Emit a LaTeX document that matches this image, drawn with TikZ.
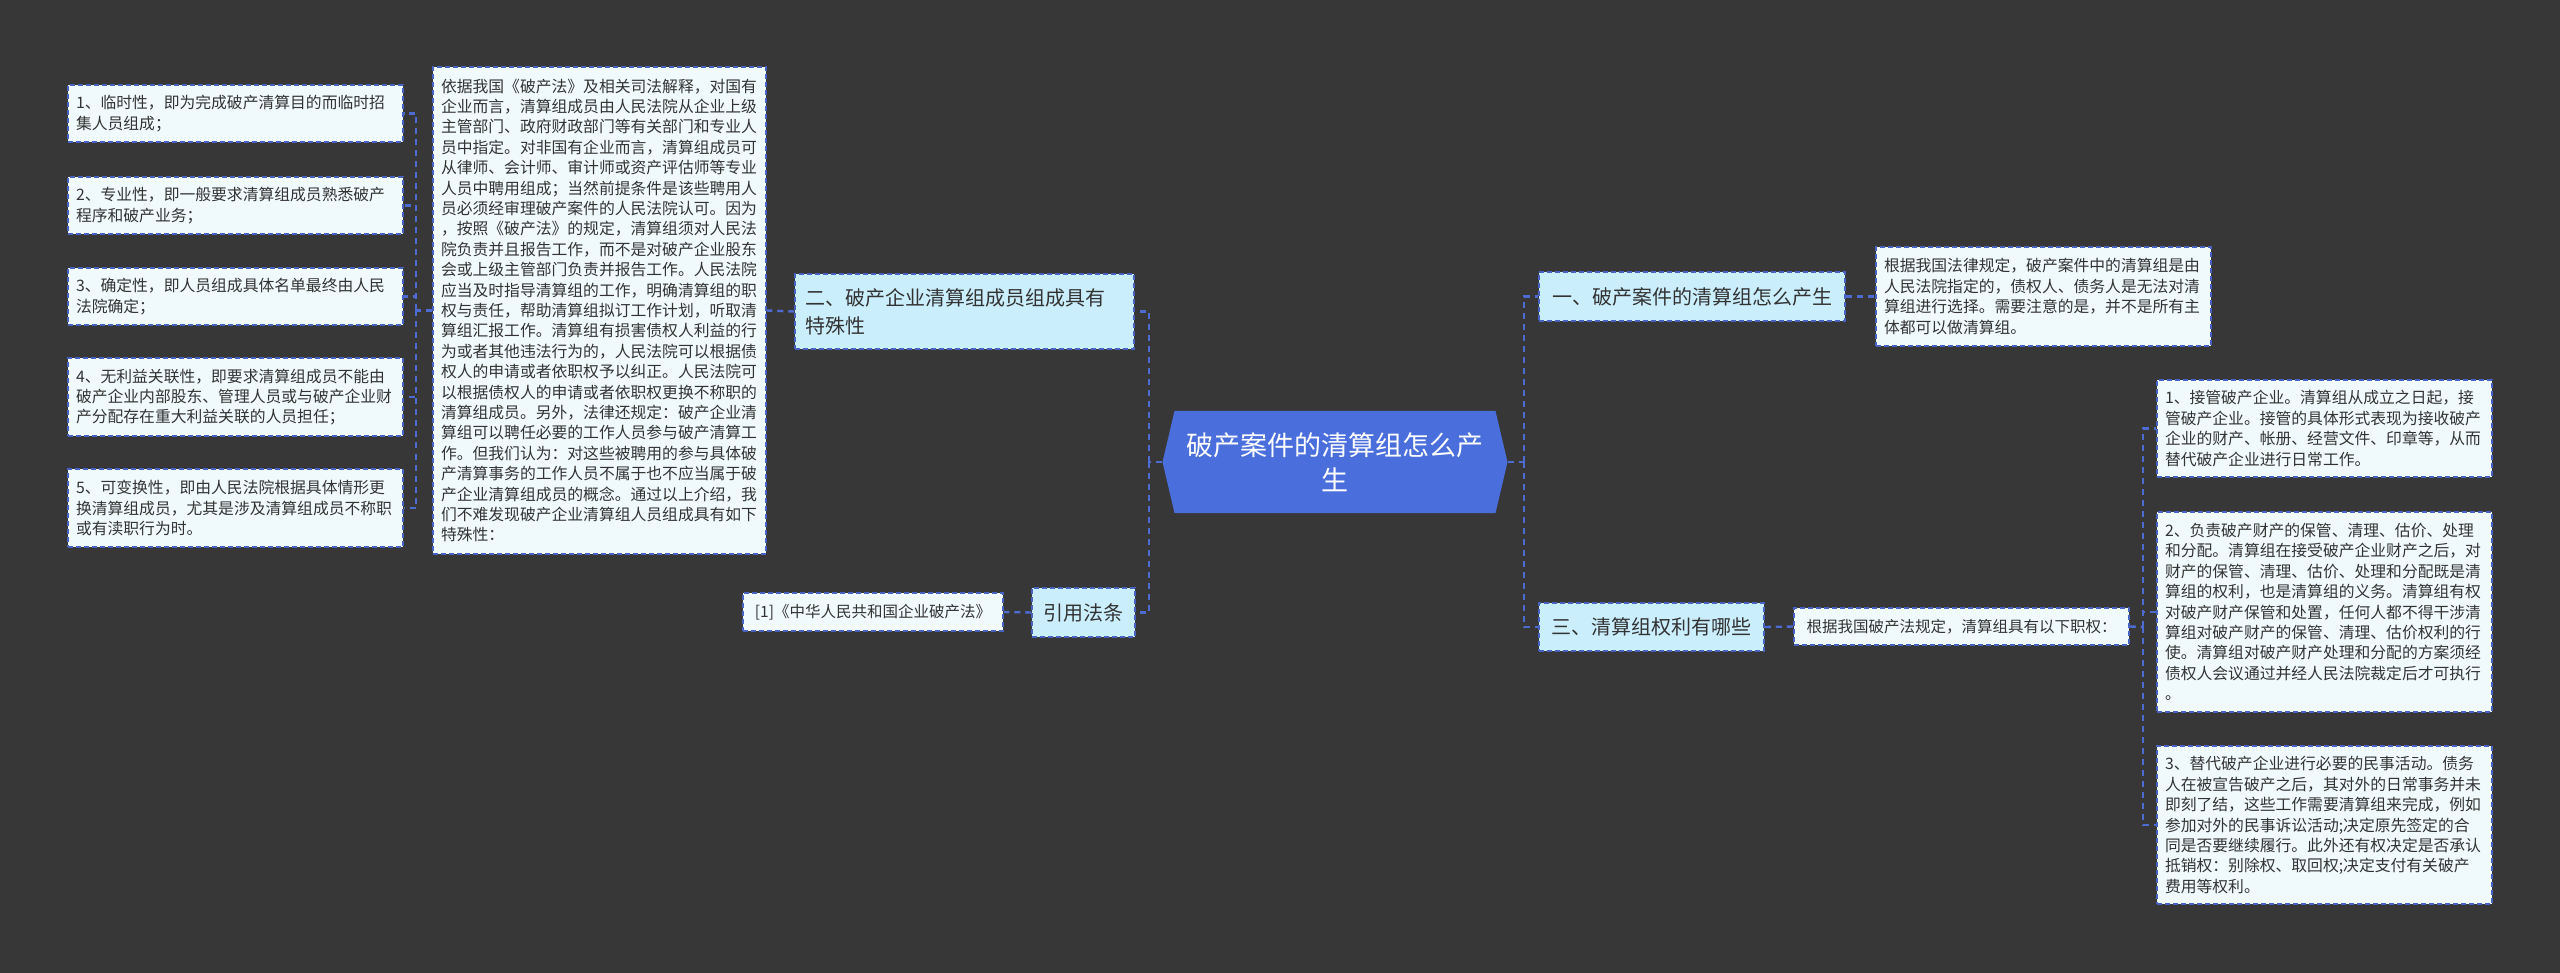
\documentclass[tikz,border=0pt]{standalone}
\usepackage{fontspec}
\newfontfamily\cjk{Noto Sans CJK SC}
\definecolor{bg}{HTML}{383737}
\definecolor{lnk}{HTML}{4E6BD2}
\definecolor{bord}{HTML}{4862C2}
\definecolor{boxfill}{HTML}{F0FAFD}
\definecolor{topicfill}{HTML}{CBEEFC}
\definecolor{centralfill}{HTML}{4A6EDC}
\definecolor{txt}{HTML}{333333}
\tikzset{
  conn/.style={draw=lnk, line width=2.4pt, dash pattern=on 6pt off 5pt},
  leaf/.style={draw=bord, line width=1.5pt, dash pattern=on 5pt off 3pt, fill=boxfill, text=txt,
    font=\cjk\fontsize{15.8}{20.4}\selectfont, align=left, inner xsep=8pt, inner ysep=0pt},
  leafone/.style={draw=bord, line width=1.5pt, dash pattern=on 5pt off 3pt, fill=boxfill, text=txt,
    font=\cjk\fontsize{15.5}{20}\selectfont, align=center, inner sep=0pt},
  topic/.style={draw=bord, line width=1.5pt, dash pattern=on 5pt off 3pt, fill=topicfill, text=txt,
    font=\cjk\fontsize{20}{28}\selectfont, inner sep=0pt},
  centre/.style={inner sep=0pt, text=white, font=\cjk\fontsize{27}{35}\selectfont, align=center,
    path picture={\fill[centralfill] (path picture bounding box.west)
      -- ([xshift=12pt]path picture bounding box.north west)
      -- ([xshift=-12pt]path picture bounding box.north east)
      -- (path picture bounding box.east)
      -- ([xshift=-12pt]path picture bounding box.south east)
      -- ([xshift=12pt]path picture bounding box.south west) -- cycle;}},
}
\begin{document}
\begin{tikzpicture}[x=1pt,y=-1pt]
\fill[bg] (0,0) rectangle (2560,973);
\useasboundingbox (0,0) rectangle (2560,973);

% central
\node[centre, minimum width=345pt, minimum height=102pt] (c) at (1335,462) {破产案件的清算组怎么产\\生};

% left side
\node[topic, text width=319pt, minimum height=75pt, align=left, inner xsep=10pt] (n2) at (964.5,311.5)
  {二、破产企业清算组成员组成具有\\特殊性};
\node[leaf, text width=317pt, minimum height=487pt] (big) at (599.5,310.5)
  {依据我国《破产法》及相关司法解释，对国有\\
企业而言，清算组成员由人民法院从企业上级\\
主管部门、政府财政部门等有关部门和专业人\\
员中指定。对非国有企业而言，清算组成员可\\
从律师、会计师、审计师或资产评估师等专业\\
人员中聘用组成；当然前提条件是该些聘用人\\
员必须经审理破产案件的人民法院认可。因为\\
，按照《破产法》的规定，清算组须对人民法\\
院负责并且报告工作，而不是对破产企业股东\\
会或上级主管部门负责并报告工作。人民法院\\
应当及时指导清算组的工作，明确清算组的职\\
权与责任，帮助清算组拟订工作计划，听取清\\
算组汇报工作。清算组有损害债权人利益的行\\
为或者其他违法行为的，人民法院可以根据债\\
权人的申请或者依职权予以纠正。人民法院可\\
以根据债权人的申请或者依职权更换不称职的\\
清算组成员。另外，法律还规定：破产企业清\\
算组可以聘任必要的工作人员参与破产清算工\\
作。但我们认为：对这些被聘用的参与具体破\\
产清算事务的工作人员不属于也不应当属于破\\
产企业清算组成员的概念。通过以上介绍，我\\
们不难发现破产企业清算组人员组成具有如下\\
特殊性：};

\node[leaf, text width=319pt, minimum height=57pt] (b1) at (235.5,113.5)
  {1、临时性，即为完成破产清算目的而临时招\\集人员组成；};
\node[leaf, text width=319pt, minimum height=57pt] (b2) at (235.5,205.5)
  {2、专业性，即一般要求清算组成员熟悉破产\\程序和破产业务；};
\node[leaf, text width=319pt, minimum height=57pt] (b3) at (235.5,296.5)
  {3、确定性，即人员组成具体名单最终由人民\\法院确定；};
\node[leaf, text width=319pt, minimum height=78pt] (b4) at (235.5,397)
  {4、无利益关联性，即要求清算组成员不能由\\破产企业内部股东、管理人员或与破产企业财\\产分配存在重大利益关联的人员担任；};
\node[leaf, text width=319pt, minimum height=78pt] (b5) at (235.5,508)
  {5、可变换性，即由人民法院根据具体情形更\\换清算组成员，尤其是涉及清算组成员不称职\\或有渎职行为时。};

\node[topic, minimum width=103pt, minimum height=49pt] (cite) at (1083.5,612.5) {引用法条};
\node[leafone, minimum width=260pt, minimum height=38pt] (citetext) at (873,612) {[1]《中华人民共和国企业破产法》};

% right side
\node[topic, minimum width=306pt, minimum height=49pt] (n1) at (1692,296.5) {一、破产案件的清算组怎么产生};
\node[leaf, text width=319pt, minimum height=99pt] (r0) at (2043.5,296.5)
  {根据我国法律规定，破产案件中的清算组是由\\人民法院指定的，债权人、债务人是无法对清\\算组进行选择。需要注意的是，并不是所有主\\体都可以做清算组。};
\node[topic, minimum width=225pt, minimum height=48pt] (n3) at (1651.5,627) {三、清算组权利有哪些};
\node[leafone, minimum width=335pt, minimum height=37pt] (r3) at (1961.5,626.5) {根据我国破产法规定，清算组具有以下职权：};

\node[leaf, text width=319pt, minimum height=97pt] (rb1) at (2324.5,428.5)
  {1、接管破产企业。清算组从成立之日起，接\\管破产企业。接管的具体形式表现为接收破产\\企业的财产、帐册、经营文件、印章等，从而\\替代破产企业进行日常工作。};
\node[leaf, text width=319pt, minimum height=200pt] (rb2) at (2324.5,612)
  {2、负责破产财产的保管、清理、估价、处理\\和分配。清算组在接受破产企业财产之后，对\\财产的保管、清理、估价、处理和分配既是清\\算组的权利，也是清算组的义务。清算组有权\\对破产财产保管和处置，任何人都不得干涉清\\算组对破产财产的保管、清理、估价权利的行\\使。清算组对破产财产处理和分配的方案须经\\债权人会议通过并经人民法院裁定后才可执行\\。};
\node[leaf, text width=319pt, minimum height=158pt] (rb3) at (2324.5,825)
  {3、替代破产企业进行必要的民事活动。债务\\人在被宣告破产之后，其对外的日常事务并未\\即刻了结，这些工作需要清算组来完成，例如\\参加对外的民事诉讼活动;决定原先签定的合\\同是否要继续履行。此外还有权决定是否承认\\抵销权：别除权、取回权;决定支付有关破产\\费用等权利。};

% connectors left
\coordinate (lt) at (1149,462);
\draw[conn] (c.west) -- (lt);
\draw[conn] (lt) |- (n2.east);
\draw[conn] (lt) |- (cite.east);
\draw[conn] (n2.west) -- (big.east);
\draw[conn] (cite.west) -- (citetext.east);
\coordinate (lb) at (416,310.5);
\draw[conn] (big.west) -- (lb);
\foreach \b in {b1,b2,b3,b4,b5} \draw[conn] (lb) |- (\b.east);

% connectors right
\coordinate (rt) at (1524,462);
\draw[conn] (c.east) -- (rt);
\draw[conn] (rt) |- (n1.west);
\draw[conn] (rt) |- (n3.west);
\draw[conn] (n1.east) -- (r0.west);
\draw[conn] (n3.east) -- (r3.west);
\coordinate (rb) at (2143,627);
\draw[conn] (r3.east) -- (rb);
\foreach \b in {rb1,rb2,rb3} \draw[conn] (rb) |- (\b.west);
\end{tikzpicture}
\end{document}
